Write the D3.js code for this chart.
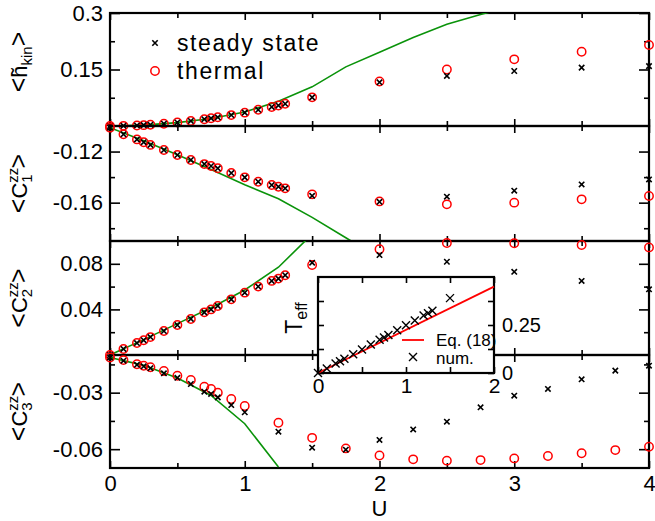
<!DOCTYPE html>
<html><head><meta charset="utf-8">
<script src="https://cdn.jsdelivr.net/npm/d3@7"></script>
<style>body{margin:0;background:#fff}svg{display:block}text{font-family:"Liberation Sans",Arial,sans-serif;fill:#000}</style>
</head><body>
<script>
// ---------- data ----------
const uMain = [0,0.1,0.2,0.25,0.3,0.4,0.5,0.6,0.7,0.75,0.8,0.9,1.0,1.1,1.2,1.25,1.3,1.5,2.0,2.5,3.0,3.5,4.0];
const hkinSteady  = [0,0.0004,0.0015,0.0023,0.0033,0.006,0.0093,0.0133,0.018,0.0205,0.0232,0.029,0.0355,0.043,0.0505,0.0545,0.059,0.076,0.116,0.133,0.146,0.155,0.159];
const hkinThermal = [0,0.0004,0.0015,0.0023,0.0033,0.006,0.0093,0.0133,0.018,0.0205,0.0232,0.029,0.0355,0.043,0.0505,0.0545,0.059,0.076,0.118,0.150,0.177,0.197,0.215];
const c1Steady  = [-0.1013,-0.1065,-0.1105,-0.1127,-0.1148,-0.1188,-0.1227,-0.1266,-0.1298,-0.1313,-0.1331,-0.1368,-0.1402,-0.1436,-0.1462,-0.1475,-0.1488,-0.1546,-0.1593,-0.1553,-0.1506,-0.1457,-0.1418];
const c1Thermal = [-0.1013,-0.1065,-0.1105,-0.1127,-0.1148,-0.1188,-0.1227,-0.1266,-0.1298,-0.1313,-0.1331,-0.1368,-0.1402,-0.1436,-0.1462,-0.1475,-0.1488,-0.1535,-0.1590,-0.1613,-0.1600,-0.1574,-0.1548];
const c2Steady  = [0,0.0053,0.0105,0.013,0.0157,0.021,0.0263,0.0316,0.0374,0.040,0.043,0.0488,0.0547,0.060,0.065,0.067,0.070,0.081,0.0877,0.0818,0.073,0.065,0.0576];
const c2Thermal = [0,0.0053,0.0105,0.013,0.0157,0.021,0.0263,0.0316,0.0374,0.040,0.043,0.0488,0.0547,0.060,0.065,0.067,0.070,0.079,0.0927,0.0982,0.098,0.0965,0.0944];
const uC3 = [0,0.1,0.2,0.25,0.3,0.4,0.5,0.6,0.7,0.75,0.8,0.9,1.0,1.25,1.5,1.75,2.0,2.25,2.5,2.75,3.0,3.25,3.5,3.75,4.0];
const c3Steady  = [-0.0113,-0.0130,-0.0152,-0.0160,-0.0170,-0.0197,-0.0221,-0.0254,-0.0295,-0.0307,-0.0325,-0.0366,-0.0404,-0.0507,-0.0592,-0.0603,-0.0551,-0.0495,-0.0454,-0.0378,-0.0316,-0.0280,-0.0229,-0.0183,-0.0157];
const c3Thermal = [-0.0113,-0.0127,-0.0149,-0.0157,-0.0165,-0.0185,-0.0210,-0.0233,-0.0268,-0.0280,-0.0300,-0.0334,-0.0371,-0.0460,-0.0540,-0.0596,-0.0634,-0.0654,-0.0661,-0.0658,-0.0649,-0.0636,-0.0622,-0.0605,-0.0587];
const uGreen = [0,0.25,0.5,0.75,1.0,1.25,1.5,1.75,2.0,2.25,2.5,2.75,3.0];
const greenHkin = [0,0.0022,0.009,0.020,0.037,0.066,0.104,0.157,0.196,0.235,0.270,0.296,0.32];
const greenC1 = [-0.1013,-0.1115,-0.1225,-0.134,-0.146,-0.157,-0.1715,-0.1875,-0.203];
const greenC2 = [0,0.0135,0.0275,0.0415,0.057,0.077,0.106];
const greenC3 = [-0.0113,-0.0155,-0.0222,-0.0315,-0.0465,-0.0695];
const uInset = [0,0.1,0.2,0.25,0.3,0.4,0.5,0.6,0.7,0.75,0.8,0.9,1.0,1.1,1.2,1.25,1.3,1.5];
const tEffNum = [0,0.024,0.049,0.061,0.074,0.098,0.123,0.148,0.173,0.185,0.198,0.223,0.249,0.274,0.299,0.311,0.324,0.39];
const uEq18 = [0,2];
const tEffEq18 = [0,0.45];
// ticks
const xTicks = [0,1,2,3,4], xTickLabels = ["0","1","2","3","4"], xMinor = [0.5,1.5,2.5,3.5];
const hkinTicks = [0.15,0.3], hkinTickLabels = ["0.15","0.3"], hkinMinor = [0.075,0.225];
const c1Ticks = [-0.16,-0.12], c1TickLabels = ["-0.16","-0.12"], c1Minor = [-0.18,-0.14];
const c2Ticks = [0.04,0.08], c2TickLabels = ["0.04","0.08"], c2Minor = [0.02,0.06];
const c3Ticks = [-0.06,-0.03], c3TickLabels = ["-0.06","-0.03"], c3Minor = [-0.045,-0.015];
const insetXTicks = [0,1,2], insetXTickLabels = ["0","1","2"], insetXMinor = [0.5,1.5];
const insetYTicks = [0,0.25], insetYTickLabels = ["0","0.25"], insetYMinor = [0.125,0.375];
const legendLabels = ["steady state","thermal"];
const insetLegendLabels = ["Eq. (18)","num."];

// ---------- drawing ----------
const W = 655, H = 521;
const svg = d3.select("body").append("svg").attr("width", W).attr("height", H);
const x = d3.scaleLinear().domain([0,4]).range([110,649]);
const L = 110, R = 649;
const GREEN = "#0a930a";

const panels = [
  {top:13, bot:126, dom:[0,0.3], ticks:hkinTicks, tl:hkinTickLabels, minor:hkinMinor, u:uMain, s:hkinSteady, t:hkinThermal, g:greenHkin, lab:"h"},
  {top:126, bot:241, dom:[-0.19,-0.1], ticks:c1Ticks, tl:c1TickLabels, minor:c1Minor, u:uMain, s:c1Steady, t:c1Thermal, g:greenC1, lab:"1"},
  {top:241, bot:355, dom:[0,0.1], ticks:c2Ticks, tl:c2TickLabels, minor:c2Minor, u:uMain, s:c2Steady, t:c2Thermal, g:greenC2, lab:"2"},
  {top:355, bot:468, dom:[-0.07,-0.01], ticks:c3Ticks, tl:c3TickLabels, minor:c3Minor, u:uC3, s:c3Steady, t:c3Thermal, g:greenC3, lab:"3"}
];

const crossPath = s => `M${-s},${-s}L${s},${s}M${-s},${s}L${s},${-s}`;

function styleAxis(g, fs) {
  g.select(".domain").remove();
  g.selectAll("line").attr("stroke","#000").attr("stroke-width",1.6);
  g.selectAll("text").attr("font-family","'Liberation Sans',Arial,sans-serif").attr("font-size",fs).attr("fill","#000");
}

panels.forEach((p, i) => {
  const y = d3.scaleLinear().domain(p.dom).range([p.bot, p.top]);
  const gp = svg.append("g");
  const cid = "clip" + i;
  svg.append("clipPath").attr("id", cid).append("rect").attr("x", L).attr("y", p.top).attr("width", R - L).attr("height", p.bot - p.top);

  const lt = gp.append("g").attr("transform", `translate(${L},0)`)
    .call(d3.axisLeft(y).tickValues(p.ticks).tickSize(-10).tickPadding(7).tickFormat((d,k)=>p.tl[k]));
  styleAxis(lt, 22);
  styleAxis(gp.append("g").attr("transform", `translate(${L},0)`).call(d3.axisLeft(y).tickValues(p.minor).tickSize(-5).tickFormat("")), 22);
  styleAxis(gp.append("g").attr("transform", `translate(${R},0)`).call(d3.axisRight(y).tickValues(p.ticks).tickSize(-10).tickFormat("")), 22);
  styleAxis(gp.append("g").attr("transform", `translate(${R},0)`).call(d3.axisRight(y).tickValues(p.minor).tickSize(-5).tickFormat("")), 22);
  styleAxis(gp.append("g").attr("transform", `translate(0,${p.top})`).call(d3.axisTop(x).tickValues(xTicks).tickSize(-7).tickFormat("")), 22);
  styleAxis(gp.append("g").attr("transform", `translate(0,${p.top})`).call(d3.axisTop(x).tickValues(xMinor).tickSize(-5).tickFormat("")), 22);
  const bt = gp.append("g").attr("transform", `translate(0,${p.bot})`)
    .call(d3.axisBottom(x).tickValues(xTicks).tickSize(-7).tickPadding(7).tickFormat((d,k)=> i===3 ? xTickLabels[k] : ""));
  styleAxis(bt, 22);
  styleAxis(gp.append("g").attr("transform", `translate(0,${p.bot})`).call(d3.axisBottom(x).tickValues(xMinor).tickSize(-5).tickFormat("")), 22);

  gp.append("rect").attr("x", L).attr("y", p.top).attr("width", R - L).attr("height", p.bot - p.top)
    .attr("fill","none").attr("stroke","#000").attr("stroke-width",2.2);

  const gl = d3.line().x((d,k)=>x(uGreen[k])).y(d=>y(d));
  gp.append("path").attr("d", gl(p.g)).attr("fill","none").attr("stroke",GREEN).attr("stroke-width",1.6).attr("clip-path",`url(#${cid})`);

  gp.append("g").selectAll("circle").data(p.t).join("circle")
    .attr("cx",(d,k)=>x(p.u[k])).attr("cy",d=>y(d)).attr("r",4.2)
    .attr("fill","none").attr("stroke","#ff0000").attr("stroke-width",1.5);
  gp.append("g").selectAll("path").data(p.s).join("path")
    .attr("transform",(d,k)=>`translate(${x(p.u[k])},${y(d)})`).attr("d",crossPath(2.7))
    .attr("stroke","#000").attr("stroke-width",1.6).attr("fill","none");

  // y label
  const cy = i===0 ? 62 : (p.top + p.bot)/2;
  const t = svg.append("text").attr("transform",`translate(27,${cy}) rotate(-90)`).attr("text-anchor","middle").attr("font-size",22);
  t.append("tspan").attr("font-size",25).text("<");
  if (p.lab === "h") {
    t.append("tspan").text("h\u0303");
    t.append("tspan").attr("font-size",15).attr("dy",5).text("kin");
    t.append("tspan").attr("font-size",25).attr("dy",-5).text(">");
  } else {
    t.append("tspan").text("C");
    t.append("tspan").attr("font-size",15).attr("dy",-9).text("zz");
    t.append("tspan").attr("font-size",15).attr("dy",14).attr("dx",-15).text(p.lab);
    t.append("tspan").attr("font-size",25).attr("dy",-5).attr("dx",6).text(">");
  }
});

// x label
svg.append("text").attr("x", x(2)).attr("y", 516).attr("text-anchor","middle").attr("font-size",22).text("U");

// main legend
const lg = svg.append("g");
lg.append("path").attr("transform","translate(155,43)").attr("d",crossPath(2.7)).attr("stroke","#000").attr("stroke-width",1.6);
lg.append("text").attr("x",177).attr("y",51).attr("font-size",23).attr("letter-spacing",1.6).text(legendLabels[0]);
lg.append("circle").attr("cx",155).attr("cy",71).attr("r",4.2).attr("fill","none").attr("stroke","#ff0000").attr("stroke-width",1.5);
lg.append("text").attr("x",177).attr("y",79).attr("font-size",23).attr("letter-spacing",1.6).text(legendLabels[1]);

// ---------- inset ----------
const ix = d3.scaleLinear().domain([0,2]).range([318,494]);
const iy = d3.scaleLinear().domain([0,0.5]).range([373,277]);
const gi = svg.append("g");
gi.append("rect").attr("x",318).attr("y",277).attr("width",176).attr("height",96).attr("fill","#fff");
styleAxis(gi.append("g").attr("transform","translate(0,373)").call(d3.axisBottom(ix).tickValues(insetXTicks).tickSize(-6).tickPadding(5).tickFormat((d,k)=>insetXTickLabels[k])), 21);
styleAxis(gi.append("g").attr("transform","translate(0,373)").call(d3.axisBottom(ix).tickValues(insetXMinor).tickSize(-6).tickFormat("")), 21);
styleAxis(gi.append("g").attr("transform","translate(0,277)").call(d3.axisTop(ix).tickValues(insetXTicks.concat(insetXMinor)).tickSize(-6).tickFormat("")), 21);
styleAxis(gi.append("g").attr("transform","translate(318,0)").call(d3.axisLeft(iy).tickValues(insetYTicks.concat(insetYMinor)).tickSize(-6).tickFormat("")), 21);
const iyr = gi.append("g").attr("transform","translate(494,0)").call(d3.axisRight(iy).tickValues(insetYTicks).tickSize(-6).tickPadding(8).tickFormat((d,k)=>insetYTickLabels[k]));
styleAxis(iyr, 20);
styleAxis(gi.append("g").attr("transform","translate(494,0)").call(d3.axisRight(iy).tickValues(insetYMinor).tickSize(-6).tickFormat("")), 20);
gi.append("rect").attr("x",318).attr("y",277).attr("width",176).attr("height",96).attr("fill","none").attr("stroke","#000").attr("stroke-width",2.2);
const il = d3.line().x((d,k)=>ix(uEq18[k])).y(d=>iy(d));
gi.append("path").attr("d", il(tEffEq18)).attr("stroke","#ff0000").attr("stroke-width",1.8).attr("fill","none");
gi.append("g").selectAll("path").data(tEffNum).join("path")
  .attr("transform",(d,k)=>`translate(${ix(uInset[k])},${iy(d)})`).attr("d",crossPath(4))
  .attr("stroke","#000").attr("stroke-width",1.4).attr("fill","none");
gi.append("line").attr("x1",402).attr("x2",424).attr("y1",340).attr("y2",340).attr("stroke","#ff0000").attr("stroke-width",1.8);
gi.append("text").attr("x",436).attr("y",346).attr("font-size",17).text(insetLegendLabels[0]);
gi.append("path").attr("transform","translate(413,357)").attr("d",crossPath(4)).attr("stroke","#000").attr("stroke-width",1.4);
gi.append("text").attr("x",436).attr("y",364).attr("font-size",17).text(insetLegendLabels[1]);
const tl = svg.append("text").attr("transform","translate(302,318) rotate(-90)").attr("text-anchor","middle").attr("font-size",23);
tl.append("tspan").text("T");
tl.append("tspan").attr("font-size",16).attr("dy",5).text("eff");
</script>
</body></html>
